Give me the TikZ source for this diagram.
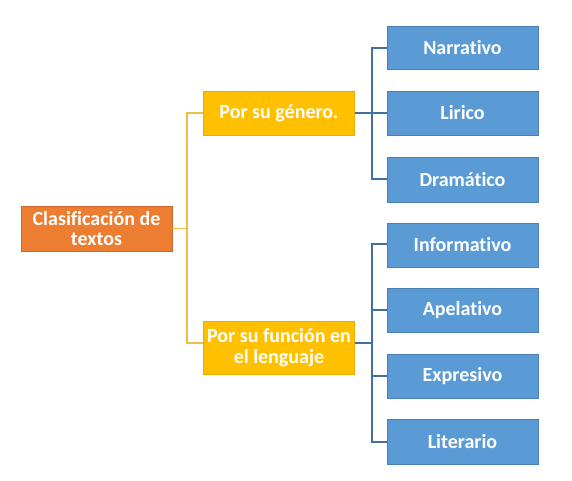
\documentclass[tikz,border=0pt]{standalone}
\usepackage{fontspec}
\setmainfont{Carlito}[RawFeature={-liga;-dlig;-clig}]
\definecolor{orangeF}{HTML}{ED7D31}
\definecolor{orangeD}{HTML}{C9682A}
\definecolor{goldF}{HTML}{FFC000}
\definecolor{goldD}{HTML}{E6AD00}
\definecolor{blueF}{HTML}{5B9BD5}
\definecolor{blueD}{HTML}{4A80B4}
\definecolor{blueL}{HTML}{41719C}
\definecolor{goldL}{HTML}{EDBE4A}
\begin{document}
\begin{tikzpicture}[x=1pt,y=-1pt,
  box/.style={inner sep=0pt, minimum width=151pt, minimum height=44pt,
    text=white, align=center, font=\fontsize{20}{20.5}\selectfont\bfseries},
  rootbox/.style={box, fill=orangeF, draw=orangeD, line width=0.6pt},
  midbox/.style={box, fill=goldF, draw=goldD, line width=0.6pt},
  leafbox/.style={box, fill=blueF, draw=blueD, line width=0.8pt},
  yline/.style={draw=goldL, line width=1.4pt},
  bline/.style={draw=blueL, line width=1.4pt}]
\fill[white] (0,0) rectangle (572,480);
\useasboundingbox (0,0) rectangle (572,480);

\node[rootbox, minimum height=45pt] (root) at (96.5,228.5) {Clasificación de\\textos};
\node[midbox] (genre) at (279,113) {Por su género.};
\node[midbox, minimum height=53pt] (func) at (279,347.5) {Por su función en\\el lenguaje};

\node[leafbox, minimum height=43pt] (narr) at (462.5,47.5) {Narrativo};
\node[leafbox] (lir) at (462.5,113) {Lirico};
\node[leafbox, minimum height=45pt] (dram) at (462.5,179.5) {Dramático};
\node[leafbox] (info) at (462.5,245) {Informativo};
\node[leafbox] (apel) at (462.5,310) {Apelativo};
\node[leafbox] (expr) at (462.5,376) {Expresivo};
\node[leafbox, minimum height=45pt] (lit) at (462.5,441.5) {Literario};

\coordinate (ya) at (187,113);
\coordinate (yb) at (187,343);
\coordinate (ba) at (372,48);
\coordinate (bb) at (372,179);
\coordinate (bc) at (372,244);
\coordinate (bd) at (372,442);
\coordinate (bm) at (372,343);

\draw[yline] (genre.west) -- (ya) -- (yb) -- (func.west |- yb);
\draw[yline] (root.east) -- (root.east -| ya);

\draw[bline] (narr.west |- ba) -- (ba) -- (bb) -- (dram.west |- bb);
\draw[bline] (genre.east) -- (lir.west);
\draw[bline] (info.west |- bc) -- (bc) -- (bd) -- (lit.west |- bd);
\draw[bline] (func.east |- bm) -- (bm);
\draw[bline] (apel.west) -- (apel.west -| bc);
\draw[bline] (expr.west) -- (expr.west -| bc);
\end{tikzpicture}
\end{document}
